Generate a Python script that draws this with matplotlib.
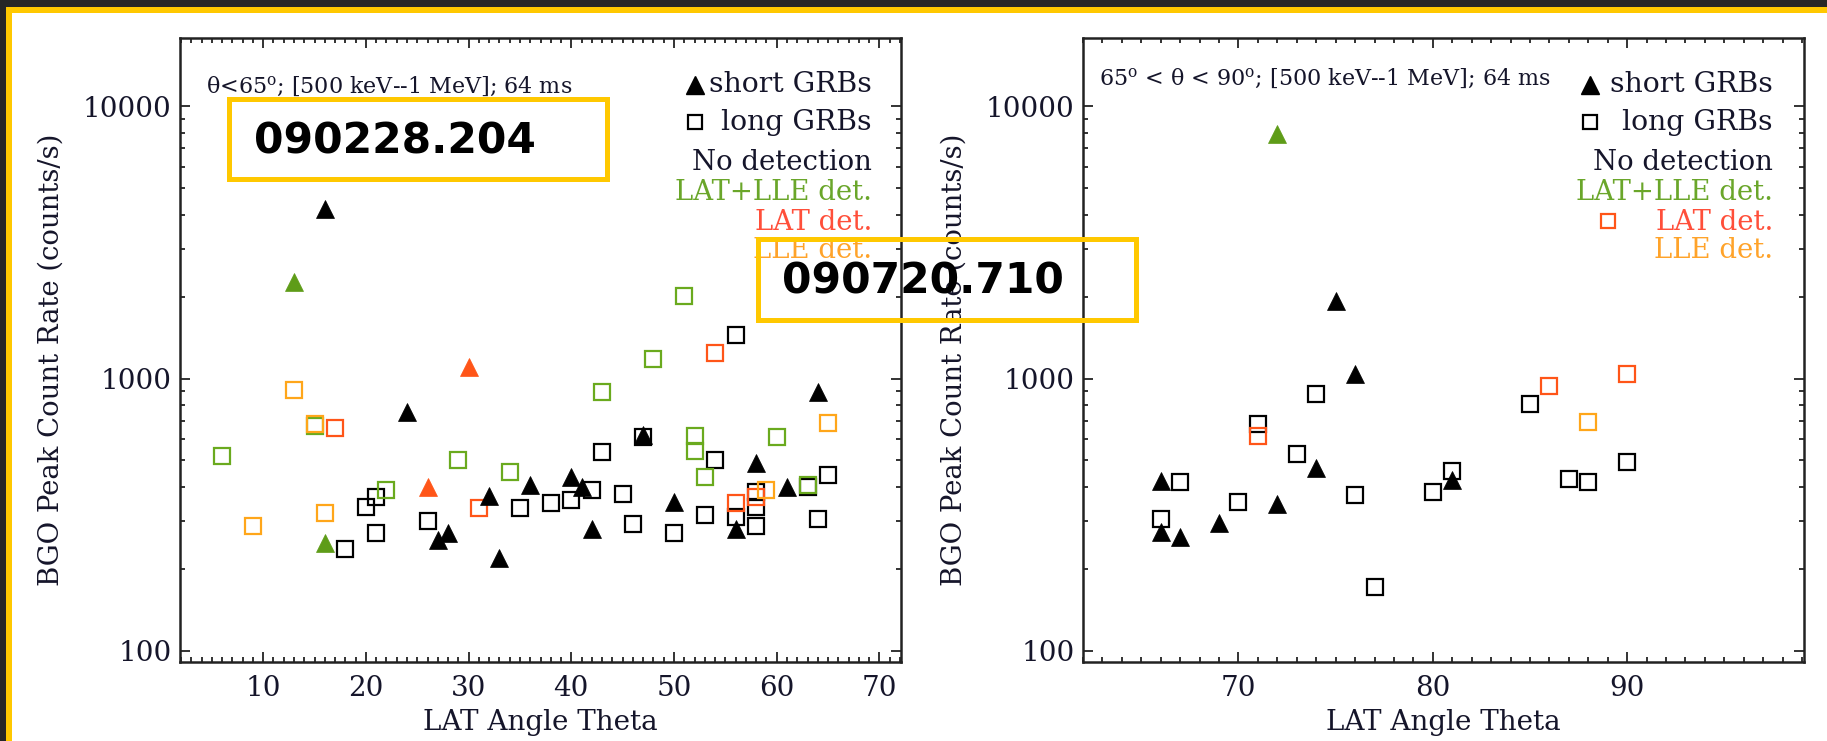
import matplotlib
matplotlib.use("Agg")
import matplotlib.pyplot as plt
from matplotlib.ticker import MultipleLocator, LogLocator, FixedLocator, FixedFormatter, NullFormatter
from matplotlib.patches import Rectangle

plt.rcParams['font.family'] = ['DejaVu Serif']
plt.rcParams['mathtext.fontset'] = 'dejavuserif'

# ---------------- data ----------------
# Left panel (theta < 65 deg)
L_short_none_x = [16, 24, 27, 28, 32, 33, 36, 40, 41, 42, 47, 50, 56, 58, 61, 64]
L_short_none_y = [4200, 755, 255, 271, 370, 220, 406, 435, 400, 279, 620, 352, 279, 490, 400, 893]
L_short_latlle_x = [13, 16]
L_short_latlle_y = [2260, 248]
L_short_lat_x = [26, 30]
L_short_lat_y = [400, 1100]

L_long_none_x = [18, 20, 21, 21, 26, 35, 38, 40, 42, 43, 45, 46, 47, 50, 53, 54, 56, 56, 58, 58, 58, 63, 64, 65]
L_long_none_y = [236, 338, 367, 270, 300, 335, 348, 357, 391, 538, 378, 293, 610, 270, 315, 504, 1440, 310, 383, 338, 288, 398, 304, 442]
L_long_latlle_x = [6, 15, 22, 29, 34, 43, 48, 51, 52, 52, 53, 60, 63]
L_long_latlle_y = [520, 670, 391, 504, 454, 890, 1175, 2010, 614, 542, 435, 611, 406]
L_long_lat_x = [17, 31, 54, 56, 58]
L_long_lat_y = [660, 336, 1240, 348, 367]
L_long_lle_x = [9, 13, 15, 16, 59, 65]
L_long_lle_y = [288, 910, 680, 320, 391, 684]

# Right panel (65 < theta < 90 deg)
R_short_none_x = [66, 66, 67, 69, 72, 74, 75, 76, 81]
R_short_none_y = [421, 273, 262, 295, 346, 469, 1930, 1040, 423]
R_short_latlle_x = [72]
R_short_latlle_y = [7900]

R_long_none_x = [66, 67, 70, 71, 73, 74, 76, 77, 80, 81, 85, 87, 88, 90]
R_long_none_y = [304, 417, 352, 680, 530, 874, 375, 171, 383, 458, 809, 426, 417, 494]
R_long_lat_x = [71, 86, 90]
R_long_lat_y = [614, 937, 1043]
R_long_lle_x = [88]
R_long_lle_y = [695]

y_ticks = [100, 1000, 10000]
y_ticklabels = ["100", "1000", "10000"]
left_xticks = [10, 20, 30, 40, 50, 60, 70]
right_xticks = [70, 80, 90]

legend_lines = ["No detection", "LAT+LLE det.", "LAT det.", "LLE det."]

BLACK = '#000000'
TXT = '#15152a'
GREEN = '#5e9c18'
GREEN_SQ = '#6aaa1e'
RED = '#ff5518'
ORANGE = '#ffa61a'
legend_colors = [TXT, '#6aa62a', '#ff4f3a', '#ffa32a']

W, H = 1827, 741
fig = plt.figure(figsize=(W / 100, H / 100), dpi=100)
fig.patch.set_facecolor('white')

def fx(px):
    return px / W

def fy(py):
    return 1 - py / H

axL = fig.add_axes([fx(180), fy(662), (901 - 180) / W, (662 - 38) / H])
axR = fig.add_axes([fx(1083), fy(662), (1804 - 1083) / W, (662 - 38) / H])

TRI = dict(marker='^', linestyle='none', markersize=13.5, markeredgewidth=0.5)
SQ = dict(marker='s', linestyle='none', markersize=11, markerfacecolor='none', markeredgewidth=1.6)

def style(ax, xlim, xticks):
    ax.set_yscale('log')
    ax.set_xlim(*xlim)
    ax.set_ylim(91, 17800)
    ax.xaxis.set_major_locator(FixedLocator(xticks))
    ax.xaxis.set_minor_locator(MultipleLocator(1))
    ax.yaxis.set_major_locator(FixedLocator(y_ticks))
    ax.yaxis.set_major_formatter(FixedFormatter(y_ticklabels))
    ax.yaxis.set_minor_locator(LogLocator(base=10, subs=range(2, 10)))
    ax.yaxis.set_minor_formatter(NullFormatter())
    ax.tick_params(which='both', direction='in', top=True, right=True, colors='#111111',
                   labelcolor=TXT, labelsize=20)
    ax.tick_params(which='major', length=7, width=1.2)
    ax.tick_params(which='minor', length=3.5, width=1.2)
    ax.tick_params(axis='x', which='major', pad=9)
    ax.tick_params(axis='y', which='major', pad=6)
    for s in ax.spines.values():
        s.set_linewidth(1.8)
        s.set_color('#222222')
    ax.set_xlabel("LAT Angle Theta", fontsize=20, color=TXT)
    ax.set_ylabel("BGO Peak Count Rate (counts/s)", fontsize=19.8, color=TXT)
    ax.xaxis.set_label_coords(0.5, -0.076)
    ax.yaxis.set_label_coords(-0.16, 0.485)

style(axL, (1.9, 72.1), left_xticks)
style(axR, (62, 99.1), right_xticks)

# ---- left panel points ----
axL.plot(L_long_none_x, L_long_none_y, markeredgecolor=BLACK, **SQ)
axL.plot(L_long_latlle_x, L_long_latlle_y, markeredgecolor=GREEN_SQ, **SQ)
axL.plot(L_long_lat_x, L_long_lat_y, markeredgecolor=RED, **SQ)
axL.plot(L_long_lle_x, L_long_lle_y, markeredgecolor=ORANGE, **SQ)
axL.plot(L_short_none_x, L_short_none_y, color=BLACK, **TRI)
axL.plot(L_short_latlle_x, L_short_latlle_y, color=GREEN, **TRI)
axL.plot(L_short_lat_x, L_short_lat_y, color=RED, **TRI)

# ---- right panel points ----
axR.plot(R_long_none_x, R_long_none_y, markeredgecolor=BLACK, **SQ)
axR.plot(R_long_lat_x, R_long_lat_y, markeredgecolor=RED, **SQ)
axR.plot(R_long_lle_x, R_long_lle_y, markeredgecolor=ORANGE, **SQ)
axR.plot(R_short_none_x, R_short_none_y, color=BLACK, **TRI)
axR.plot(R_short_latlle_x, R_short_latlle_y, color=GREEN, **TRI)

# ---- annotations / legends ----
def ax_x(ax_left, px):
    return (px - ax_left) / 721

def ax_y(py):
    return (662 - py) / 624

axL.text(ax_x(180, 206), ax_y(87), "θ<65$^{\\mathrm{o}}$; [500 keV--1 MeV]; 64 ms",
         transform=axL.transAxes, fontsize=16, color=TXT, ha='left', va='center')
axR.text(ax_x(1083, 1099), ax_y(79), "65$^{\\mathrm{o}}$ < θ < 90$^{\\mathrm{o}}$; [500 keV--1 MeV]; 64 ms",
         transform=axR.transAxes, fontsize=16, color=TXT, ha='left', va='center')

leg_y = [163, 193, 222, 250]
for ax, axleft, right_px, mk_px in [(axL, 180, 872, 695), (axR, 1083, 1773, 1590)]:
    ax.text(ax_x(axleft, right_px), ax_y(85), "short GRBs", transform=ax.transAxes,
            fontsize=20.3, color=TXT, ha='right', va='center')
    ax.text(ax_x(axleft, right_px), ax_y(122), "long GRBs", transform=ax.transAxes,
            fontsize=20.3, color=TXT, ha='right', va='center')
    ax.plot([ax_x(axleft, mk_px)], [ax_y(85)], transform=ax.transAxes, color=BLACK,
            marker='^', linestyle='none', markersize=12.5, clip_on=False)
    ax.plot([ax_x(axleft, mk_px)], [ax_y(122)], transform=ax.transAxes, marker='s',
            linestyle='none', markersize=10.5, markerfacecolor='none', markeredgecolor=BLACK,
            markeredgewidth=1.6, clip_on=False)
    for txt, col, yy in zip(legend_lines, legend_colors, leg_y):
        ax.text(ax_x(axleft, right_px), ax_y(yy), txt, transform=ax.transAxes,
                fontsize=19.8, color=col, ha='right', va='center')

axR.plot([ax_x(1083, 1608)], [ax_y(221)], transform=axR.transAxes, marker='s',
         linestyle='none', markersize=10.5, markerfacecolor='none', markeredgecolor=RED,
         markeredgewidth=1.6, clip_on=False)

# ---- overlay boxes ----
YEL = '#ffc800'
for (x0, y0, x1, y1, tx, ty, label) in [
        (229, 99, 607, 179, 254, 142, "090228.204"),
        (758, 239, 1136, 320, 782, 281, "090720.710")]:
    fig.patches.append(Rectangle((fx(x0), fy(y1)), (x1 - x0) / W, (y1 - y0) / H,
                                 transform=fig.transFigure, fill=False,
                                 edgecolor=YEL, linewidth=3.6, zorder=20))
    fig.text(fx(tx), fy(ty), label, fontsize=30.5, fontweight='bold', family='DejaVu Sans',
             color='black', ha='left', va='center', zorder=21)

# ---- screenshot frame ----
DARK = '#262626'
fig.patches.append(Rectangle((0, fy(7)), 1, 7 / H, transform=fig.transFigure,
                             facecolor=DARK, edgecolor='none', zorder=30))
fig.patches.append(Rectangle((0, 0), 6 / W, 1, transform=fig.transFigure,
                             facecolor=DARK, edgecolor='none', zorder=30))
fig.patches.append(Rectangle((6 / W, fy(13)), 1, 6 / H, transform=fig.transFigure,
                             facecolor=YEL, edgecolor='none', zorder=31))
fig.patches.append(Rectangle((6 / W, 0), 6 / W, fy(7), transform=fig.transFigure,
                             facecolor=YEL, edgecolor='none', zorder=31))

fig.savefig("out.png", dpi=100)
